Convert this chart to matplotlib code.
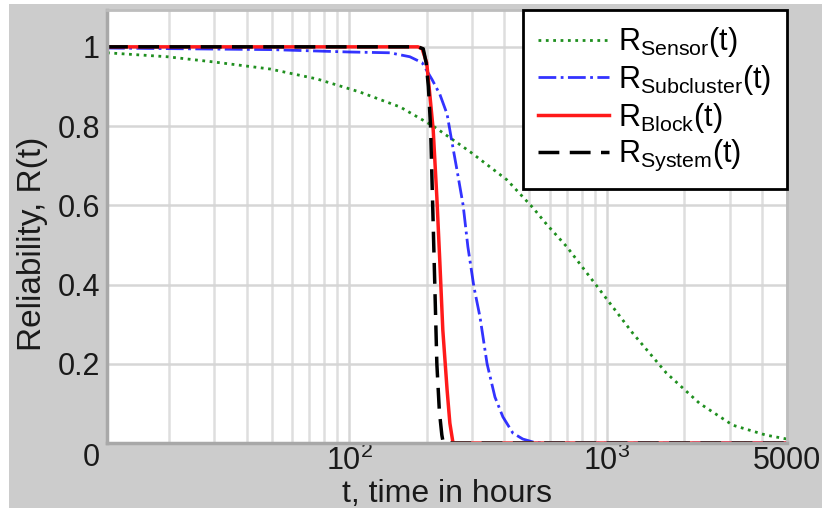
# Imports
import matplotlib
matplotlib.use('Agg')
import matplotlib.pyplot as plt
from matplotlib.patches import Rectangle
from matplotlib.ticker import FixedLocator, FixedFormatter, LogLocator, NullFormatter

# Plot configuration
plt.rcParams['font.family'] = ['Liberation Sans', 'DejaVu Sans']
plt.rcParams['mathtext.fontset'] = 'custom'
plt.rcParams['mathtext.rm'] = 'Liberation Sans'
plt.rcParams['mathtext.it'] = 'Liberation Sans:italic'
plt.rcParams['mathtext.default'] = 'regular'

# Data (t in hours, reliability R)
t_sensor = [11.5, 19.7, 29.7, 49.4, 75, 110, 158, 212, 295, 410, 518, 584, 700,
            940, 1261, 1700, 2290, 3080, 4140, 5000]
r_sensor = [0.985, 0.975, 0.962, 0.944, 0.919, 0.886, 0.848, 0.80, 0.735, 0.664,
            0.593, 0.552, 0.495, 0.386, 0.277, 0.177, 0.10, 0.045, 0.02, 0.01]

t_subcluster = [11.5, 50, 100, 144, 172, 192, 210, 225, 240, 249, 262, 277, 289,
                305, 322, 343, 368, 395, 432, 472, 520, 600, 5000]
r_subcluster = [0.997, 0.993, 0.987, 0.985, 0.975, 0.96, 0.917, 0.88, 0.83, 0.77,
                0.69, 0.60, 0.495, 0.394, 0.318, 0.20, 0.116, 0.066, 0.025, 0.01,
                0.002, 0.0, 0.0]

t_block = [11.5, 185, 192, 200, 206, 212, 219, 225, 231, 240, 246, 253, 5000]
r_block = [1.0, 1.0, 0.995, 0.96, 0.875, 0.79, 0.62, 0.455, 0.285, 0.134, 0.05,
           0.0, 0.0]

t_system = [11.5, 185, 194, 199, 203, 207, 211, 215, 219, 224, 229, 232, 5000]
r_system = [1.0, 1.0, 0.995, 0.96, 0.90, 0.80, 0.60, 0.40, 0.20, 0.08, 0.02, 0.0,
            0.0]

x_ticks = [100, 1000, 5000]
x_tick_labels = ['$10^{2}$', '$10^{3}$', '5000']
y_ticks = [0, 0.2, 0.4, 0.6, 0.8, 1.0]
y_tick_labels = ['0', '0.2', '0.4', '0.6', '0.8', '1']

labels = [r'R$_{Sensor}$(t)', r'R$_{Subcluster}$(t)', r'R$_{Block}$(t)',
          r'R$_{System}$(t)']

fig = plt.figure(figsize=(8.22, 5.08), dpi=100, facecolor='white')
# gray panel behind the axes (thin white strip on the left/top like the scan)
fig.patches.append(Rectangle((9 / 822, 0), 1, 1 - 4 / 508, transform=fig.transFigure,
                             facecolor='#cccccc', edgecolor='none', zorder=-10))
ax = fig.add_axes([107 / 822, 65 / 508, 680 / 822, 433 / 508])
ax.set_facecolor('white')

ax.plot(t_sensor, r_sensor, color='#1f8f1f', linestyle=':', lw=2, label=labels[0])
ax.plot(t_subcluster, r_subcluster, color='#0000ff', linestyle='-.', lw=2, alpha=0.8,
        label=labels[1])
ax.plot(t_block, r_block, color='#ff1a1a', linestyle='-', lw=2.5, label=labels[2])
ax.plot(t_system, r_system, color='black', linestyle=(0, (6, 3)), lw=2.5,
        label=labels[3])

ax.set_xscale('log')
ax.set_xlim(11.5, 5000)
ax.set_ylim(0, 1.093)

ax.xaxis.set_major_locator(FixedLocator(x_ticks))
ax.xaxis.set_major_formatter(FixedFormatter(x_tick_labels))
ax.xaxis.set_minor_locator(LogLocator(base=10, subs=range(2, 10)))
ax.xaxis.set_minor_formatter(NullFormatter())
ax.set_yticks(y_ticks)
ax.set_yticklabels(y_tick_labels)
ax.get_yticklabels()[0].set_va('top')

ax.tick_params(which='both', length=0, labelsize=22, colors='#1a1a1a')
ax.tick_params(axis='x', pad=2)
ax.tick_params(axis='y', pad=5)

ax.grid(True, which='major', color='#d6d6d6', lw=1.8)
ax.grid(True, which='minor', axis='x', color='#dedede', lw=1.8)
ax.set_axisbelow(True)

for side in ['left', 'bottom']:
    ax.spines[side].set_color('#a8a8a8')
    ax.spines[side].set_linewidth(2.5)
for side in ['top', 'right']:
    ax.spines[side].set_color('#bdbdbd')
    ax.spines[side].set_linewidth(2)

ax.set_xlabel('t, time in hours', fontsize=23, color='#1a1a1a')
ax.set_ylabel('Reliability, R(t)', fontsize=24, color='#1a1a1a')
ax.xaxis.set_label_coords(0.5, -0.082)
ax.yaxis.set_label_coords(-0.087, 0.46)

# legend box fixed to the upper right corner, same width as the reference
leg = ax.legend(loc='upper left', bbox_to_anchor=(0.612, 0.589, 0.388, 0.411),
                mode='expand', borderaxespad=0, fontsize=22, labelspacing=0.12,
                handlelength=2.3, handletextpad=0.3, borderpad=0.5,
                fancybox=False, framealpha=1)
leg.get_frame().set_edgecolor('black')
leg.get_frame().set_linewidth(2)

plt.savefig('out.png', dpi=100)
